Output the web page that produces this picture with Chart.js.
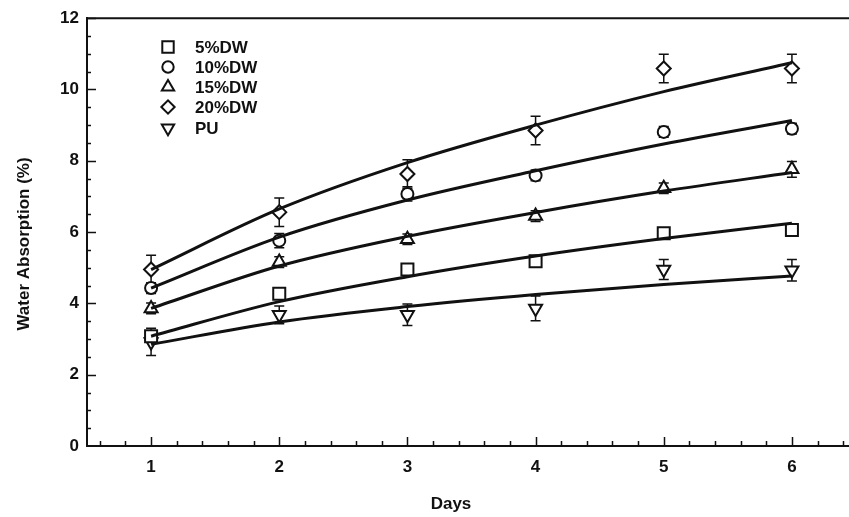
<!DOCTYPE html>
<html>
<head>
<meta charset="utf-8">
<title>Water Absorption</title>
<script src="https://cdn.jsdelivr.net/npm/chart.js@4.4.0/dist/chart.umd.min.js"></script>
<style>
  html, body { margin:0; padding:0; background:#fff; overflow:hidden; }
  #wrap { width:870px; height:517px; }
</style>
</head>
<body>
<div id="wrap"><canvas id="absorptionChart" width="870" height="517"></canvas></div>
<script>
const days = [1, 2, 3, 4, 5, 6];
const xTickLabels = [1, 2, 3, 4, 5, 6];
const yTickLabels = [0, 2, 4, 6, 8, 10, 12];

// measured means
const dw5 = [3.08, 4.27, 4.95, 5.18, 5.97, 6.06];
const dw10 = [4.43, 5.76, 7.07, 7.59, 8.81, 8.90];
const dw15 = [3.86, 5.16, 5.80, 6.45, 7.23, 7.76];
const dw20 = [4.95, 6.56, 7.63, 8.85, 10.59, 10.59];
const pu = [2.92, 3.68, 3.68, 3.86, 4.95, 4.93];

// standard deviations
const dw5Err = [0.15, 0.15, 0.15, 0.15, 0.15, 0.15];
const dw10Err = [0.15, 0.2, 0.2, 0.15, 0.15, 0.15];
const dw15Err = [0.15, 0.15, 0.15, 0.15, 0.15, 0.22];
const dw20Err = [0.4, 0.4, 0.4, 0.4, 0.4, 0.4];
const puErr = [0.38, 0.25, 0.3, 0.35, 0.28, 0.3];

// fitted curves, read at each day
const dw5Fit = [3.08, 4.05, 4.75, 5.33, 5.82, 6.25];
const dw10Fit = [4.43, 5.86, 6.90, 7.72, 8.47, 9.13];
const dw15Fit = [3.86, 5.05, 5.88, 6.55, 7.15, 7.67];
const dw20Fit = [4.95, 6.65, 7.95, 9.00, 9.94, 10.75];
const puFit = [2.85, 3.48, 3.91, 4.25, 4.53, 4.77];

const seriesNames = ['5%DW', '10%DW', '15%DW', '20%DW', 'PU'];

const INK = '#111';
const FONT = 'bold 17px "Liberation Sans", Arial, Helvetica, sans-serif';

const markerStyles = [
  {pointStyle:'rect', radius:8.5, rotation:0},
  {pointStyle:'circle', radius:6, rotation:0},
  {pointStyle:'triangle', radius:7.5, rotation:0},
  {pointStyle:'rectRot', radius:7, rotation:0},
  {pointStyle:'triangle', radius:7.5, rotation:180}
];

const means = [dw5, dw10, dw15, dw20, pu];
const errs = [dw5Err, dw10Err, dw15Err, dw20Err, puErr];
const fits = [dw5Fit, dw10Fit, dw15Fit, dw20Fit, puFit];

const toPoints = arr => arr.map((v, i) => ({x: days[i], y: v}));

const datasets = [];
means.forEach((m, i) => {
  datasets.push({
    label: seriesNames[i],
    data: toPoints(m),
    errors: errs[i],
    showLine: false,
    pointStyle: markerStyles[i].pointStyle,
    pointRadius: markerStyles[i].radius,
    pointRotation: markerStyles[i].rotation,
    pointBorderWidth: 2,
    pointBorderColor: INK,
    pointBackgroundColor: '#fff',
    pointHoverRadius: markerStyles[i].radius,
    order: 2
  });
});
fits.forEach((f, i) => {
  datasets.push({
    label: seriesNames[i] + ' fit',
    data: toPoints(f),
    showLine: true,
    borderColor: INK,
    borderWidth: 3,
    pointRadius: 0,
    cubicInterpolationMode: 'monotone',
    fill: false,
    order: 1
  });
});

// error bars sit under the markers
const errorBars = {
  id: 'errorBars',
  beforeDatasetsDraw(chart) {
    const {ctx, scales:{x, y}} = chart;
    ctx.save();
    ctx.strokeStyle = INK;
    ctx.lineWidth = 1.5;
    chart.data.datasets.forEach(ds => {
      if (!ds.errors) return;
      ds.data.forEach((p, i) => {
        const e = ds.errors[i];
        const px = x.getPixelForValue(p.x);
        const top = y.getPixelForValue(p.y + e);
        const bot = y.getPixelForValue(p.y - e);
        ctx.beginPath();
        ctx.moveTo(px, top); ctx.lineTo(px, bot);
        ctx.moveTo(px - 5, top); ctx.lineTo(px + 5, top);
        ctx.moveTo(px - 5, bot); ctx.lineTo(px + 5, bot);
        ctx.stroke();
      });
    });
    ctx.restore();
  }
};

// inward ticks, top frame line, axis titles and the symbol key
const frame = {
  id: 'frame',
  afterDraw(chart) {
    const {ctx, chartArea:a, scales:{x, y}} = chart;
    ctx.save();
    ctx.strokeStyle = INK;
    ctx.lineWidth = 2;
    ctx.beginPath();
    ctx.moveTo(a.left, a.top); ctx.lineTo(a.right, a.top);
    ctx.stroke();

    ctx.lineWidth = 1.5;
    ctx.beginPath();
    for (let k = 3; k <= 32; k++) {
      const v = k * 0.2;
      const px = Math.round(x.getPixelForValue(v)) + 0.5;
      const len = Math.abs(v - Math.round(v)) < 1e-6 ? 9 : 5;
      ctx.moveTo(px, a.bottom); ctx.lineTo(px, a.bottom - len);
    }
    for (let k = 1; k <= 24; k++) {
      const v = k * 0.5;
      const py = Math.round(y.getPixelForValue(v)) + 0.5;
      const len = v % 2 === 0 ? 9 : 4;
      ctx.moveTo(a.left, py); ctx.lineTo(a.left + len, py);
    }
    ctx.stroke();

    ctx.fillStyle = INK;
    ctx.font = FONT;
    ctx.textAlign = 'center';
    ctx.textBaseline = 'middle';
    ctx.fillText('Days', 451, 504);
    ctx.save();
    ctx.translate(24, 244);
    ctx.rotate(-Math.PI / 2);
    ctx.fillText('Water Absorption (%)', 0, 0);
    ctx.restore();

    const rows = [47, 67, 87, 107, 128];
    ctx.textAlign = 'left';
    seriesNames.forEach((name, i) => {
      ctx.fillStyle = '#fff';
      ctx.strokeStyle = INK;
      ctx.lineWidth = 2;
      Chart.helpers.drawPoint(ctx, {
        pointStyle: markerStyles[i].pointStyle,
        radius: markerStyles[i].radius * 0.95,
        rotation: markerStyles[i].rotation,
        borderWidth: 2
      }, 168, rows[i]);
      ctx.fillStyle = INK;
      ctx.fillText(name, 195, rows[i] + 1);
    });
    ctx.restore();
  }
};

new Chart(document.getElementById('absorptionChart'), {
  type: 'scatter',
  data: {datasets},
  options: {
    responsive: false,
    animation: false,
    layout: {padding: {top: 13, right: 14, left: 0, bottom: 0}},
    plugins: {legend: {display: false}, tooltip: {enabled: false}},
    scales: {
      x: {
        type: 'linear', min: 0.5, max: 6.5,
        afterBuildTicks: s => { s.ticks = xTickLabels.map(v => ({value: v})); },
        afterFit: s => { s.height = 71; },
        grid: {display: false, drawTicks: false},
        border: {display: true, color: INK, width: 2},
        ticks: {color: INK, padding: 11, font: {family: '"Liberation Sans", Arial, sans-serif', size: 17, weight: 'bold'}}
      },
      y: {
        type: 'linear', min: 0, max: 12,
        afterBuildTicks: s => { s.ticks = yTickLabels.map(v => ({value: v})); },
        afterFit: s => { s.width = 87; },
        grid: {display: false, drawTicks: false},
        border: {display: true, color: INK, width: 2},
        ticks: {color: INK, padding: 8, font: {family: '"Liberation Sans", Arial, sans-serif', size: 17, weight: 'bold'}}
      }
    }
  },
  plugins: [errorBars, frame]
});
</script>
</body>
</html>
